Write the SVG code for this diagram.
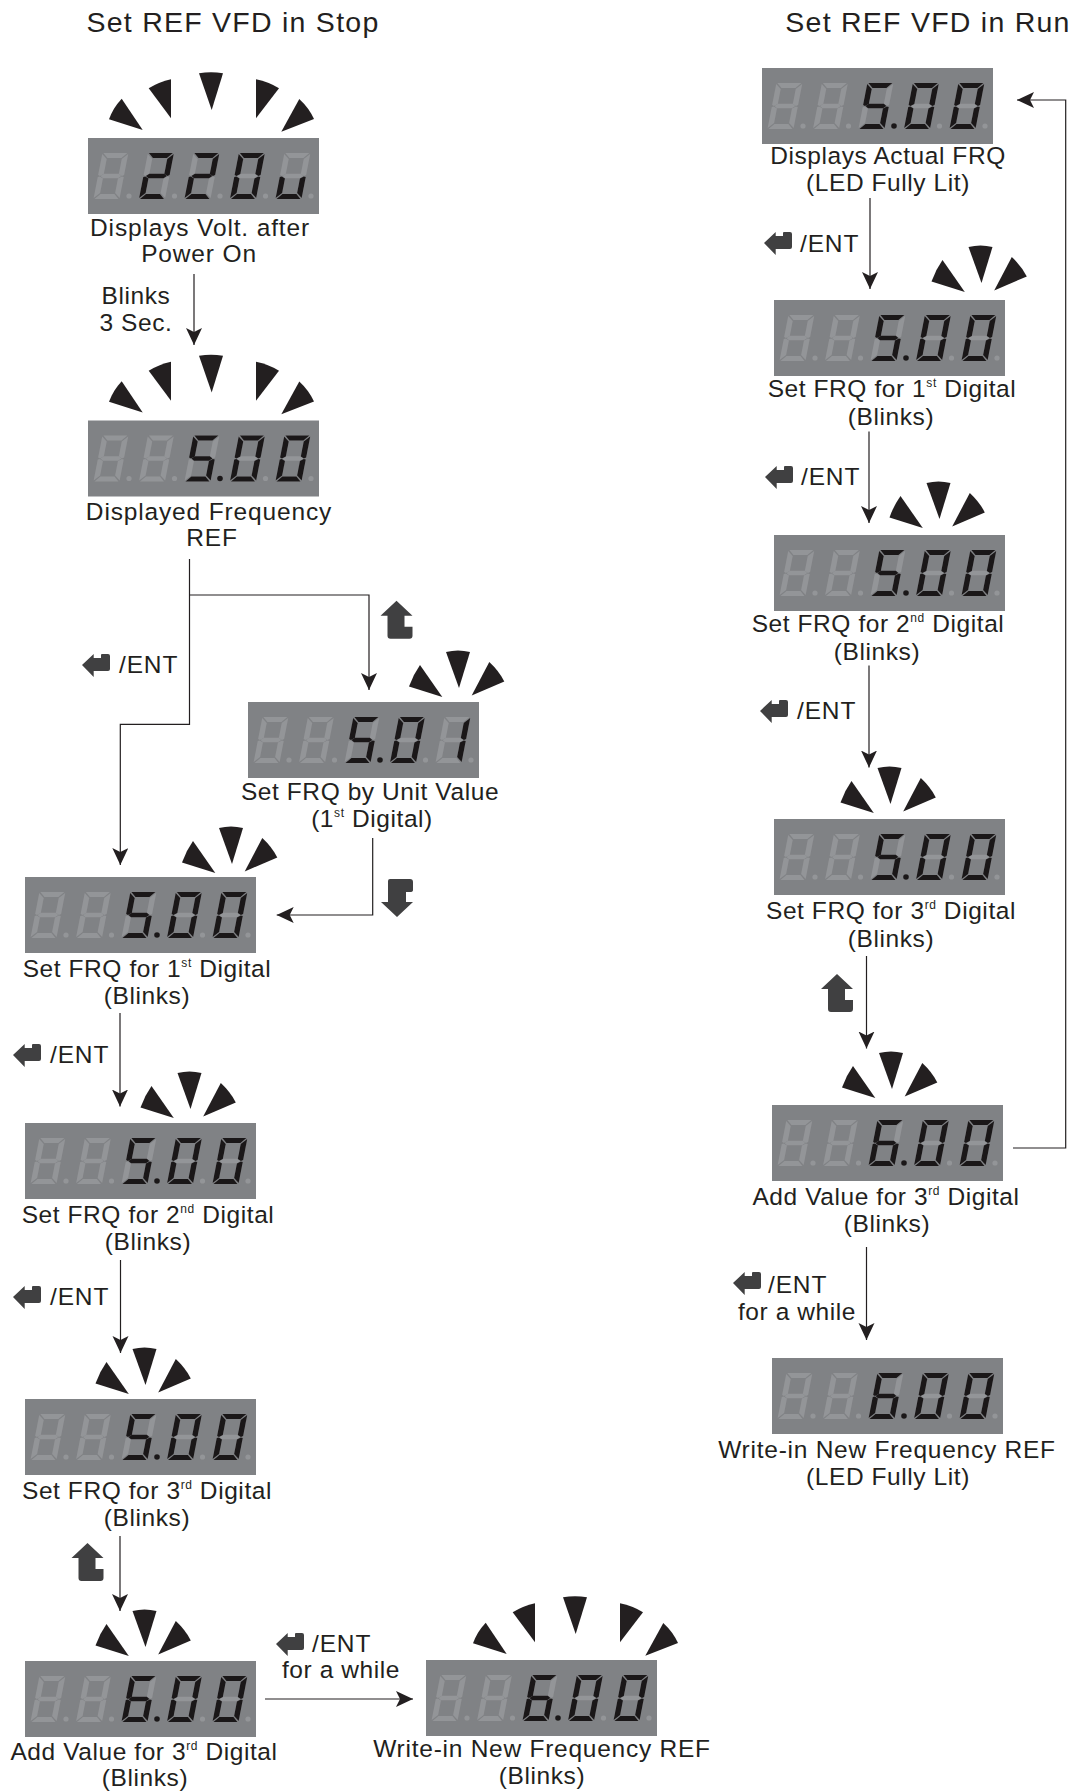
<svg xmlns="http://www.w3.org/2000/svg" width="1080" height="1791" viewBox="0 0 1080 1791">
<style>
text{font-family:"Liberation Sans",Arial,sans-serif;font-size:24.5px;fill:#231f20;letter-spacing:.85px;text-anchor:middle}
.title{font-size:28.5px;letter-spacing:1.25px}
.l{text-anchor:start}
.t{letter-spacing:.58px}
.c{fill:none;stroke:#231f20;stroke-width:1.2}
.w{fill:#231f20}
.ic{fill:#404041}
.off{fill:#939598}
.on{fill:#1a1718}
.s{font-size:12px}
</style>
<defs>
<marker id="ah" markerUnits="userSpaceOnUse" markerWidth="18" markerHeight="18" refX="17" refY="8" orient="auto"><path d="M0 0L17 8L0 16L4 8Z" fill="#231f20"/></marker>
<g id="sa"><polygon points="1,0 25,0 20,5 6,5"/></g>
<g id="sb"><polygon points="26,1 26,22 24,23 20.5,21 20.5,6"/></g>
<g id="sc"><polygon points="26,24 26,45 20.5,40 20.5,25.5 24,23.5"/></g>
<g id="sd"><polygon points="1,46 25,46 20,41 6,41"/></g>
<g id="se"><polygon points="0,24 0,45 5.5,40 5.5,25.5 2,23.5"/></g>
<g id="sf"><polygon points="0,1 0,22 2,23 5.5,21 5.5,6"/></g>
<g id="sg"><polygon points="2.5,23 5.5,20.8 20.5,20.8 23.5,23 20.5,25.2 5.5,25.2"/></g>
<g id="d8"><g transform="translate(5.5,15) skewX(-11) translate(8.9,0)"><use href="#sa"/><use href="#sb"/><use href="#sc"/><use href="#sd"/><use href="#se"/><use href="#sf"/><use href="#sg"/></g><circle cx="41" cy="58" r="2.6"/></g>
<g id="n2"><g transform="translate(5.5,15) skewX(-11) translate(8.9,0)"><use href="#sa"/><use href="#sb"/><use href="#sd"/><use href="#se"/><use href="#sg"/></g></g>
<g id="n0"><g transform="translate(5.5,15) skewX(-11) translate(8.9,0)"><use href="#sa"/><use href="#sb"/><use href="#sc"/><use href="#sd"/><use href="#se"/><use href="#sf"/></g></g>
<g id="nu"><g transform="translate(5.5,15) skewX(-11) translate(8.9,0)"><use href="#sc"/><use href="#sd"/><use href="#se"/></g></g>
<g id="n5"><g transform="translate(5.5,15) skewX(-11) translate(8.9,0)"><use href="#sa"/><use href="#sc"/><use href="#sd"/><use href="#sf"/><use href="#sg"/></g><circle cx="41" cy="58" r="2.8"/></g>
<g id="n6"><g transform="translate(5.5,15) skewX(-11) translate(8.9,0)"><use href="#sa"/><use href="#sc"/><use href="#sd"/><use href="#se"/><use href="#sf"/><use href="#sg"/></g><circle cx="41" cy="58" r="2.8"/></g>
<g id="n1"><g transform="translate(5.5,15) skewX(-11) translate(8.9,0)"><use href="#sb"/><use href="#sc"/></g></g>
<g id="panel"><rect width="231" height="76" fill="#808285"/><g class="off"><use href="#d8"/><use href="#d8" x="45.5"/><use href="#d8" x="91"/><use href="#d8" x="136.5"/><use href="#d8" x="182"/></g></g>
<g id="v500"><use href="#panel"/><g class="on"><use href="#n5" x="91"/><use href="#n0" x="136.5"/><use href="#n0" x="182"/></g></g>
<g id="v600"><use href="#panel"/><g class="on"><use href="#n6" x="91"/><use href="#n0" x="136.5"/><use href="#n0" x="182"/></g></g>
<g id="fan3" class="w"><path d="M-16.7 9L-39 -23Q-46 -13 -50 -1.6Z"/><path d="M0 0L-13 -36Q-1 -39 11 -36Z"/><path d="M12.7 7.4L30.3 -26Q40 -17 45.3 -6.6Z"/></g>
<g id="fan5" class="w"><path d="M54.7 -8L33.7 -39.3Q25 -30 21 -18.7Z"/><path d="M83 -19.7L60.7 -49.7Q71 -56 83 -58.7Z"/><path d="M123.7 -28L111 -64.7Q123 -67 135 -64.7Z"/><path d="M168 -19.7L168 -58.7Q181 -56 191 -49.7Z"/><path d="M193.3 -6.3L211.3 -39Q221 -30 226 -19Z"/></g>
<g id="ent"><path class="ic" d="M0 12L11.7 1V5H19V2Q19 1 20 1H26Q28 1 28 3V16Q28 18 26 18H11.7V24Z"/></g>
<g id="up"><path class="ic" d="M16 0L32 15H24V26H32V35Q32 38 29 38H10Q7 38 7 35V15H0Z"/></g>
<g id="dn"><path class="ic" d="M16 39L0 24H7V3Q7 1 9 1H29Q32 1 32 4V12Q32 14 29 14H25V24H32Z"/></g>
</defs>

<g id="titles"><text class="title" x="233" y="32">Set REF VFD in Stop</text><text class="title" x="928" y="32">Set REF VFD in Run</text></g>

<g id="connectors">
<path class="c" marker-end="url(#ah)" d="M194 274V345"/>
<path class="c" marker-end="url(#ah)" d="M189.5 559V724.3H120.3V865"/>
<path class="c" marker-end="url(#ah)" d="M189.5 595H369V690"/>
<path class="c" marker-end="url(#ah)" d="M372.7 838V915H276.7"/>
<path class="c" marker-end="url(#ah)" d="M120 1013V1106.5"/>
<path class="c" marker-end="url(#ah)" d="M120.5 1260V1353"/>
<path class="c" marker-end="url(#ah)" d="M120 1536V1611"/>
<path class="c" marker-end="url(#ah)" d="M265 1699H413"/>
<path class="c" marker-end="url(#ah)" d="M870 198V289"/>
<path class="c" marker-end="url(#ah)" d="M869 431.5V523"/>
<path class="c" marker-end="url(#ah)" d="M869 665.5V767.5"/>
<path class="c" marker-end="url(#ah)" d="M866.5 956V1048.5"/>
<path class="c" marker-end="url(#ah)" d="M1013 1148H1065.7V100H1017"/>
<path class="c" marker-end="url(#ah)" d="M866.5 1247V1340"/>
</g>

<g id="n-volt"><use href="#fan5" x="88" y="138"/><use href="#panel" x="88" y="138"/><g class="on" transform="translate(88,138)"><use href="#n2" x="45.5"/><use href="#n2" x="91"/><use href="#n0" x="136.5"/><use href="#nu" x="182"/></g><text x="200" y="236">Displays Volt. after</text><text x="199" y="261.5">Power On</text></g>
<g id="n-blinks"><text class="t" x="136" y="304">Blinks</text><text class="t" x="136" y="331">3 Sec.</text></g>
<g id="n-freq"><use href="#fan5" x="88" y="420.5"/><use href="#v500" x="88" y="420.5"/><text x="209" y="520">Displayed Frequency</text><text x="212" y="546">REF</text></g>
<g id="e1"><use href="#ent" x="82" y="653"/><text class="l" x="119" y="673">/ENT</text></g>
<g id="e-up1"><use href="#up" x="380.5" y="600.7"/></g>
<g id="n-unit"><use href="#fan3" x="459" y="688"/><use href="#panel" x="248" y="702"/><g class="on" transform="translate(248,702)"><use href="#n5" x="91"/><use href="#n0" x="136.5"/><use href="#n1" x="182"/></g><text class="t" x="370" y="800">Set FRQ by Unit Value</text><text class="t" x="372" y="827">(1<tspan class="s" dy="-10">st</tspan><tspan dy="10"> Digital)</tspan></text></g>
<g id="e-dn1"><use href="#dn" x="381" y="878"/></g>

<g id="n-s1"><use href="#fan3" x="232" y="864"/><use href="#v500" x="25" y="877"/><text class="t" x="147" y="977">Set FRQ for 1<tspan class="s" dy="-10">st</tspan><tspan dy="10"> Digital</tspan></text><text class="t" x="147" y="1004">(Blinks)</text></g>
<g id="e2"><use href="#ent" x="13" y="1043"/><text class="l" x="50" y="1063">/ENT</text></g>
<g id="n-s2"><use href="#fan3" x="190.5" y="1109"/><use href="#v500" x="25" y="1123"/><text class="t" x="148" y="1223">Set FRQ for 2<tspan class="s" dy="-10">nd</tspan><tspan dy="10"> Digital</tspan></text><text class="t" x="148" y="1250">(Blinks)</text></g>
<g id="e3"><use href="#ent" x="13" y="1285"/><text class="l" x="50" y="1305">/ENT</text></g>
<g id="n-s3"><use href="#fan3" x="145.5" y="1385"/><use href="#v500" x="25" y="1399"/><text class="t" x="147" y="1499">Set FRQ for 3<tspan class="s" dy="-10">rd</tspan><tspan dy="10"> Digital</tspan></text><text class="t" x="147" y="1526">(Blinks)</text></g>
<g id="e-up2"><use href="#up" x="71.5" y="1543"/></g>
<g id="n-add1"><use href="#fan3" x="145.5" y="1647"/><use href="#v600" x="25" y="1661"/><text class="t" x="144" y="1760">Add Value for 3<tspan class="s" dy="-10">rd</tspan><tspan dy="10"> Digital</tspan></text><text class="t" x="145" y="1786">(Blinks)</text></g>
<g id="e4"><use href="#ent" x="276" y="1632"/><text class="l" x="312" y="1652">/ENT</text><text class="t" x="341" y="1678">for a while</text></g>
<g id="n-write1"><use href="#fan5" x="452" y="1662"/><use href="#v600" x="426" y="1660"/><text x="542" y="1757" style="letter-spacing:.75px">Write-in New Frequency REF</text><text class="t" x="542" y="1784">(Blinks)</text></g>

<g id="n-r1"><use href="#v500" x="762" y="68"/><text class="t" x="888" y="164">Displays Actual FRQ</text><text class="t" x="888" y="191">(LED Fully Lit)</text></g>
<g id="e5"><use href="#ent" x="764" y="231"/><text class="l" x="800" y="252">/ENT</text></g>
<g id="n-r2"><use href="#fan3" x="981.5" y="283"/><use href="#v500" x="774" y="300"/><text class="t" x="892" y="397">Set FRQ for 1<tspan class="s" dy="-10">st</tspan><tspan dy="10"> Digital</tspan></text><text class="t" x="891" y="425">(Blinks)</text></g>
<g id="e6"><use href="#ent" x="765" y="465"/><text class="l" x="801" y="485">/ENT</text></g>
<g id="n-r3"><use href="#fan3" x="939.5" y="519"/><use href="#v500" x="774" y="535"/><text class="t" x="878" y="632">Set FRQ for 2<tspan class="s" dy="-10">nd</tspan><tspan dy="10"> Digital</tspan></text><text class="t" x="877" y="660">(Blinks)</text></g>
<g id="e7"><use href="#ent" x="760" y="699"/><text class="l" x="797" y="719">/ENT</text></g>
<g id="n-r4"><use href="#fan3" x="890.5" y="804"/><use href="#v500" x="774" y="819"/><text class="t" x="891" y="919">Set FRQ for 3<tspan class="s" dy="-10">rd</tspan><tspan dy="10"> Digital</tspan></text><text class="t" x="891" y="947">(Blinks)</text></g>
<g id="e-up3"><use href="#up" x="821" y="974"/></g>
<g id="n-r5"><use href="#fan3" x="892" y="1089"/><use href="#v600" x="772" y="1105"/><text class="t" x="886" y="1205">Add Value for 3<tspan class="s" dy="-10">rd</tspan><tspan dy="10"> Digital</tspan></text><text class="t" x="887" y="1232">(Blinks)</text></g>
<g id="e8"><use href="#ent" x="733" y="1271"/><text class="l" x="768" y="1293">/ENT</text><text class="t" x="797" y="1320">for a while</text></g>
<g id="n-r6"><use href="#v600" x="772" y="1358"/><text x="887" y="1458" style="letter-spacing:.75px">Write-in New Frequency REF</text><text class="t" x="888" y="1485">(LED Fully Lit)</text></g>
</svg>
